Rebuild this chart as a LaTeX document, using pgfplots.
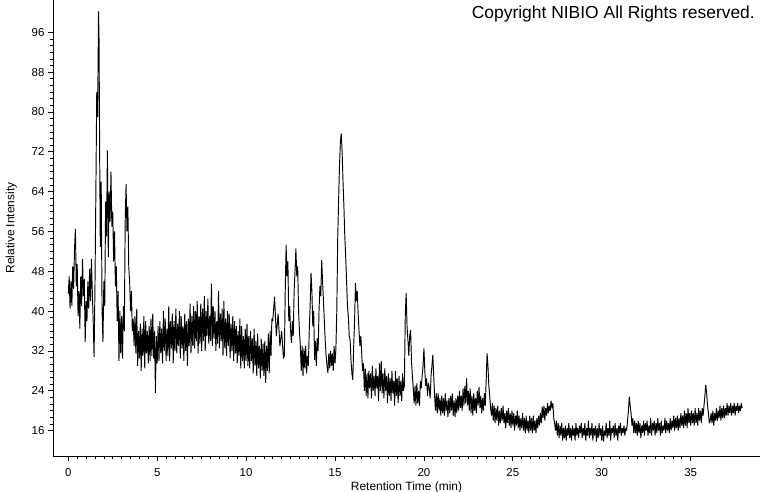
\documentclass[border=0pt]{standalone}
\usepackage{fontspec}
\setmainfont{Liberation Sans}
\usepackage{pgfplots}
\pgfplotsset{compat=1.18}

\pgfplotstableread{
t I
0.00 43.5
0.05 47.0
0.10 40.5
0.15 46.0
0.20 41.0
0.25 49.0
0.30 44.5
0.35 52.5
0.40 56.5
0.45 45.0
0.50 49.5
0.55 39.0
0.60 44.0
0.65 36.5
0.70 47.0
0.75 41.0
0.80 50.5
0.85 43.0
0.90 46.5
0.95 33.8
1.00 42.0
1.05 38.0
1.10 46.0
1.15 40.5
1.20 48.5
1.25 42.0
1.30 50.5
1.35 44.0
1.40 38.0
1.45 30.8
1.50 45.0
1.55 63.5
1.60 84.0
1.65 79.0
1.70 100.2
1.73 94.5
1.76 74.0
1.80 52.9
1.85 66.0
1.90 40.0
1.95 33.8
2.00 46.0
2.05 41.0
2.10 62.0
2.15 55.0
2.20 72.3
2.25 50.9
2.30 64.0
2.35 58.0
2.40 68.0
2.45 57.0
2.50 60.0
2.55 50.0
2.60 56.0
2.65 45.0
2.70 49.0
2.75 38.0
2.80 44.0
2.85 30.0
2.90 40.0
2.95 31.5
3.00 39.0
3.05 30.5
3.10 41.0
3.15 36.0
3.20 58.0
3.25 65.5
3.30 56.0
3.35 61.0
3.40 48.9
3.45 46.0
3.50 40.0
3.55 44.0
3.60 36.0
3.65 38.5
3.70 33.0
3.75 39.0
3.80 31.5
3.85 40.5
3.90 29.0
3.95 36.0
4.00 30.5
4.05 37.5
4.10 28.0
4.15 36.5
4.20 31.0
4.25 39.0
4.30 28.5
4.35 38.0
4.40 31.5
4.45 36.0
4.50 29.5
4.55 37.0
4.60 30.0
4.65 38.5
4.70 31.0
4.75 39.5
4.80 30.5
4.85 36.0
4.90 23.6
4.95 35.0
5.00 29.5
5.05 37.0
5.10 30.0
5.15 38.0
5.20 31.5
5.25 36.5
5.30 29.5
5.35 40.0
5.40 32.0
5.45 38.5
5.50 30.0
5.55 36.5
5.60 31.0
5.65 41.0
5.70 30.0
5.75 38.0
5.80 32.5
5.85 39.5
5.90 29.5
5.95 38.0
6.00 32.0
6.05 40.5
6.10 31.5
6.15 37.5
6.20 33.0
6.25 40.0
6.30 30.5
6.35 39.0
6.40 32.5
6.45 37.0
6.50 30.0
6.55 39.5
6.60 32.0
6.65 38.0
6.70 29.0
6.75 38.5
6.80 33.0
6.85 41.5
6.90 31.5
6.95 39.0
7.00 33.0
7.05 41.0
7.10 32.5
7.15 40.0
7.20 34.0
7.25 42.0
7.30 31.5
7.35 39.0
7.40 33.5
7.45 41.5
7.50 32.0
7.55 40.5
7.60 34.0
7.65 43.0
7.70 32.0
7.75 40.0
7.80 35.0
7.85 42.5
7.90 33.5
7.95 39.0
8.00 34.0
8.05 45.5
8.10 33.0
8.15 41.0
8.20 34.5
8.25 40.0
8.30 32.0
8.35 38.0
8.40 33.5
8.45 44.0
8.50 32.5
8.55 39.5
8.60 34.0
8.65 40.5
8.70 31.0
8.75 42.0
8.80 32.5
8.85 38.5
8.90 31.0
8.95 40.0
9.00 33.0
9.05 39.5
9.10 30.5
9.15 37.5
9.20 32.0
9.25 39.0
9.30 30.0
9.35 38.0
9.40 31.5
9.45 37.0
9.50 29.5
9.55 36.0
9.60 31.0
9.65 38.5
9.70 28.5
9.75 37.0
9.80 30.0
9.85 35.0
9.90 28.5
9.95 36.5
10.00 30.0
10.05 37.5
10.10 29.0
10.15 35.0
10.20 28.5
10.25 36.0
10.30 30.0
10.35 34.5
10.40 27.5
10.45 36.5
10.50 29.0
10.55 34.0
10.60 27.0
10.65 35.5
10.70 28.5
10.75 33.0
10.80 26.5
10.85 34.5
10.90 28.0
10.95 33.5
11.00 27.0
11.05 34.0
11.10 25.6
11.15 33.0
11.20 28.0
11.25 35.5
11.30 27.5
11.35 36.0
11.40 31.0
11.45 38.5
11.5 38.0
11.6 42.9
11.7 35.0
11.8 39.5
11.9 33.0
12.0 36.0
12.1 30.5
12.15 31.0
12.2 44.0
12.25 53.3
12.3 47.0
12.35 50.0
12.4 38.0
12.45 41.0
12.5 36.0
12.55 33.6
12.6 38.0
12.65 35.0
12.7 44.0
12.75 48.0
12.8 52.6
12.85 47.0
12.9 49.0
12.95 40.0
13.0 36.0
13.05 33.0
13.1 28.0
13.15 33.0
13.2 27.0
13.25 32.5
13.3 28.5
13.35 33.0
13.4 27.5
13.45 31.0
13.5 29.0
13.55 36.0
13.6 41.0
13.65 47.7
13.7 44.0
13.75 37.0
13.8 40.0
13.85 30.2
13.9 34.0
13.95 29.0
14.0 34.5
14.05 32.0
14.1 40.0
14.15 45.0
14.2 43.0
14.25 50.3
14.3 46.0
14.35 42.0
14.4 38.0
14.45 34.0
14.5 31.0
14.55 29.0
14.6 27.6
14.65 31.5
14.7 28.5
14.75 32.0
14.8 29.0
14.85 31.5
14.9 28.0
14.95 33.0
15.0 29.5
15.05 32.5
15.1 40.0
15.15 54.3
15.2 62.0
15.25 69.0
15.3 74.0
15.35 75.7
15.4 72.0
15.45 66.0
15.5 61.0
15.55 55.0
15.6 51.0
15.65 46.0
15.7 41.0
15.75 38.9
15.8 35.0
15.85 34.2
15.9 30.0
15.95 27.5
16.0 26.2
16.05 33.0
16.1 38.0
16.15 45.6
16.2 42.0
16.25 44.0
16.3 39.6
16.35 36.0
16.4 33.0
16.45 35.0
16.5 31.6
16.55 28.0
16.60 29.5
16.65 24.0
16.70 28.5
16.75 23.0
16.80 27.5
16.85 22.5
16.90 28.0
16.95 24.5
17.00 27.5
17.05 22.5
17.10 29.0
17.15 24.0
17.20 27.0
17.25 23.0
17.30 28.5
17.35 24.5
17.40 27.0
17.45 22.0
17.50 29.5
17.55 24.0
17.60 30.0
17.65 23.5
17.70 27.5
17.75 22.5
17.80 28.5
17.85 24.0
17.90 27.0
17.95 21.5
18.00 27.5
18.05 23.0
18.10 26.5
18.15 22.0
18.20 28.0
18.25 23.5
18.30 26.0
18.35 21.0
18.40 28.0
18.45 23.0
18.50 26.5
18.55 21.5
18.60 27.0
18.65 23.0
18.70 26.0
18.75 22.0
18.80 27.5
18.85 24.0
18.90 25.0
18.95 38.9
19.00 43.6
19.05 37.0
19.10 34.2
19.15 31.0
19.20 35.0
19.25 36.2
19.30 30.0
19.35 27.0
19.40 24.5
19.45 21.5
19.50 25.0
19.55 21.0
19.60 25.5
19.65 21.5
19.70 24.0
19.75 21.0
19.80 26.0
19.85 24.5
19.90 27.0
19.95 29.0
20.00 32.5
20.05 28.0
20.10 25.0
20.15 26.5
20.20 23.0
20.25 25.5
20.30 24.5
20.35 22.5
20.40 27.0
20.45 29.0
20.50 31.2
20.55 27.0
20.60 23.0
20.65 20.0
20.70 23.5
20.75 19.5
20.80 23.5
20.85 20.0
20.90 22.5
20.95 19.0
21.00 23.0
21.05 19.5
21.10 22.5
21.15 19.0
21.20 23.5
21.25 20.0
21.30 22.0
21.35 18.7
21.40 22.5
21.45 19.5
21.50 23.0
21.55 20.0
21.60 23.5
21.65 19.0
21.70 22.0
21.75 18.7
21.80 22.5
21.85 19.5
21.90 23.0
21.95 20.0
22.00 24.0
22.05 20.5
22.10 23.0
22.15 20.0
22.20 24.5
22.25 21.0
22.30 25.0
22.35 21.5
22.40 26.5
22.45 21.0
22.50 24.0
22.55 20.0
22.60 24.5
22.65 19.5
22.70 23.0
22.75 19.0
22.80 23.5
22.85 20.0
22.90 22.5
22.95 19.5
23.00 24.0
23.05 21.0
23.10 24.8
23.15 20.5
23.20 23.0
23.25 19.5
23.30 22.5
23.35 20.0
23.40 23.5
23.45 21.0
23.50 26.0
23.55 31.5
23.60 29.0
23.65 25.0
23.70 23.0
23.75 20.5
23.80 19.0
23.85 21.5
23.90 18.0
23.95 21.0
24.00 17.5
24.05 20.5
24.10 18.0
24.15 21.0
24.20 17.0
24.25 20.0
24.30 17.5
24.35 20.5
24.40 18.0
24.45 21.0
24.50 17.5
24.55 19.5
24.60 16.5
24.65 20.0
24.70 17.5
24.75 20.5
24.80 17.0
24.85 19.5
24.90 16.5
24.95 20.0
25.00 17.0
25.05 19.5
25.10 16.0
25.15 19.0
25.20 17.0
25.25 20.0
25.30 16.5
25.35 19.0
25.40 16.0
25.45 18.5
25.50 16.5
25.55 19.5
25.60 16.0
25.65 18.5
25.70 15.5
25.75 19.0
25.80 16.0
25.85 18.0
25.90 15.5
25.95 19.0
26.00 16.0
26.05 18.5
26.10 15.5
26.15 19.0
26.20 16.0
26.25 18.0
26.30 15.5
26.35 18.5
26.40 16.5
26.45 19.0
26.50 17.0
26.55 19.5
26.60 17.5
26.65 20.8
26.70 18.5
26.75 21.0
26.80 18.0
26.85 20.5
26.90 19.0
26.95 21.5
27.00 19.5
27.05 21.0
27.10 20.0
27.15 22.0
27.20 20.5
27.25 21.5
27.30 18.5
27.35 17.5
27.40 16.0
27.45 18.0
27.50 15.0
27.55 17.5
27.60 14.5
27.65 17.0
27.70 15.0
27.75 17.5
27.80 14.0
27.85 16.5
27.90 14.5
27.95 17.0
28.00 14.0
28.05 16.5
28.10 15.0
28.15 17.5
28.20 14.5
28.25 16.5
28.30 14.0
28.35 17.0
28.40 15.0
28.45 16.5
28.50 14.0
28.55 17.5
28.60 15.0
28.65 16.5
28.70 14.5
28.75 17.0
28.80 15.5
28.85 17.5
28.90 14.5
28.95 16.5
29.00 15.0
29.05 17.5
29.10 14.0
29.15 16.5
29.20 15.0
29.25 18.0
29.30 14.5
29.35 16.5
29.40 15.0
29.45 17.5
29.50 14.0
29.55 16.5
29.60 15.0
29.65 17.0
29.70 13.8
29.75 16.5
29.80 14.5
29.85 17.5
29.90 15.0
29.95 16.5
30.00 14.0
30.05 17.0
30.10 13.8
30.15 16.0
30.20 15.0
30.25 17.5
30.30 14.5
30.35 16.5
30.40 15.0
30.45 18.0
30.50 14.0
30.55 16.5
30.60 15.5
30.65 17.0
30.70 14.5
30.75 17.5
30.80 15.0
30.85 16.5
30.90 14.0
30.95 17.0
31.00 15.5
31.05 17.5
31.10 15.0
31.15 16.5
31.20 15.5
31.25 17.0
31.30 15.0
31.35 16.5
31.40 16.0
31.45 18.0
31.50 20.0
31.55 22.8
31.60 21.0
31.65 19.5
31.70 17.0
31.75 18.5
31.80 15.5
31.85 18.0
31.90 15.5
31.95 17.5
32.00 15.0
32.05 18.0
32.10 15.5
32.15 17.5
32.20 14.5
32.25 17.0
32.30 15.5
32.35 18.0
32.40 15.0
32.45 17.5
32.50 16.0
32.55 18.0
32.60 15.0
32.65 17.0
32.70 15.5
32.75 18.5
32.80 15.0
32.85 17.5
32.90 16.0
32.95 18.0
33.00 15.0
33.05 17.5
33.10 15.5
33.15 18.5
33.20 16.0
33.25 17.5
33.30 15.0
33.35 18.0
33.40 15.5
33.45 17.0
33.50 16.0
33.55 18.5
33.60 15.5
33.65 18.0
33.70 16.0
33.75 17.5
33.80 15.5
33.85 18.5
33.90 16.0
33.95 18.0
34.00 16.5
34.05 19.0
34.10 16.0
34.15 18.5
34.20 16.5
34.25 19.0
34.30 16.0
34.35 18.5
34.40 16.5
34.45 19.5
34.50 17.0
34.55 19.0
34.60 16.5
34.65 20.0
34.70 17.0
34.75 19.5
34.80 16.5
34.85 20.5
34.90 17.5
34.95 19.5
35.00 17.0
35.05 20.0
35.10 17.5
35.15 19.5
35.20 17.0
35.25 20.5
35.30 17.5
35.35 19.5
35.40 17.0
35.45 20.5
35.50 18.0
35.55 20.0
35.60 17.5
35.65 20.5
35.70 19.0
35.75 21.0
35.80 23.0
35.85 25.2
35.90 23.5
35.95 21.0
36.00 19.5
36.05 17.5
36.10 18.0
36.15 19.5
36.20 17.5
36.25 20.0
36.30 17.0
36.35 19.5
36.40 18.0
36.45 20.5
36.50 18.0
36.55 20.0
36.60 18.5
36.65 21.0
36.70 18.0
36.75 20.5
36.80 18.5
36.85 21.0
36.90 18.5
36.95 20.5
37.00 19.0
37.05 21.5
37.10 19.0
37.15 21.0
37.20 19.5
37.25 21.5
37.30 19.0
37.35 21.0
37.40 19.5
37.45 21.5
37.50 19.0
37.55 21.0
37.60 20.0
37.65 21.5
37.70 19.5
37.75 21.0
37.80 20.0
37.85 21.5
37.90 20.5
}\chrom

\begin{document}
\begin{tikzpicture}
\begin{axis}[
    at={(53bp,36bp)}, anchor=south west,
    scale only axis,
    width=707bp, height=456bp,
    xmin=-0.86, xmax=38.9,
    ymin=10.9, ymax=102.5,
    axis x line*=bottom,
    axis y line*=left,
    axis line style={-, line width=0.8bp, black},
    tick align=outside,
    major tick length=5bp,
    minor tick length=3bp,
    every tick/.style={black, line width=0.7bp},
    xtick={0,5,...,35},
    ytick={16,24,...,96},
    minor x tick num=9,
    minor y tick num=5,
    /pgf/number format/assume math mode=true,
    tick label style={font=\fontsize{11.5}{12}\selectfont},
    xticklabel style={yshift=-4bp},
    xlabel={Retention Time (min)},
    ylabel={Relative Intensity},
    label style={font=\fontsize{12}{13}\selectfont},
    xlabel style={at={(axis description cs:0.5,0)}, anchor=base, yshift=-34bp},
    ylabel style={yshift=8bp},
]
\addplot[black, line width=0.95bp, line join=bevel, no marks] table[x=t, y=I] {\chrom};
\end{axis}
\node[anchor=base east, font=\fontsize{17.5}{18}\selectfont, inner sep=0pt]
    at (755bp,473bp) {Copyright NIBIO All Rights reserved.};
\pgfresetboundingbox
\path[use as bounding box] (0,0) rectangle (760bp,492bp);
\end{tikzpicture}
\end{document}
